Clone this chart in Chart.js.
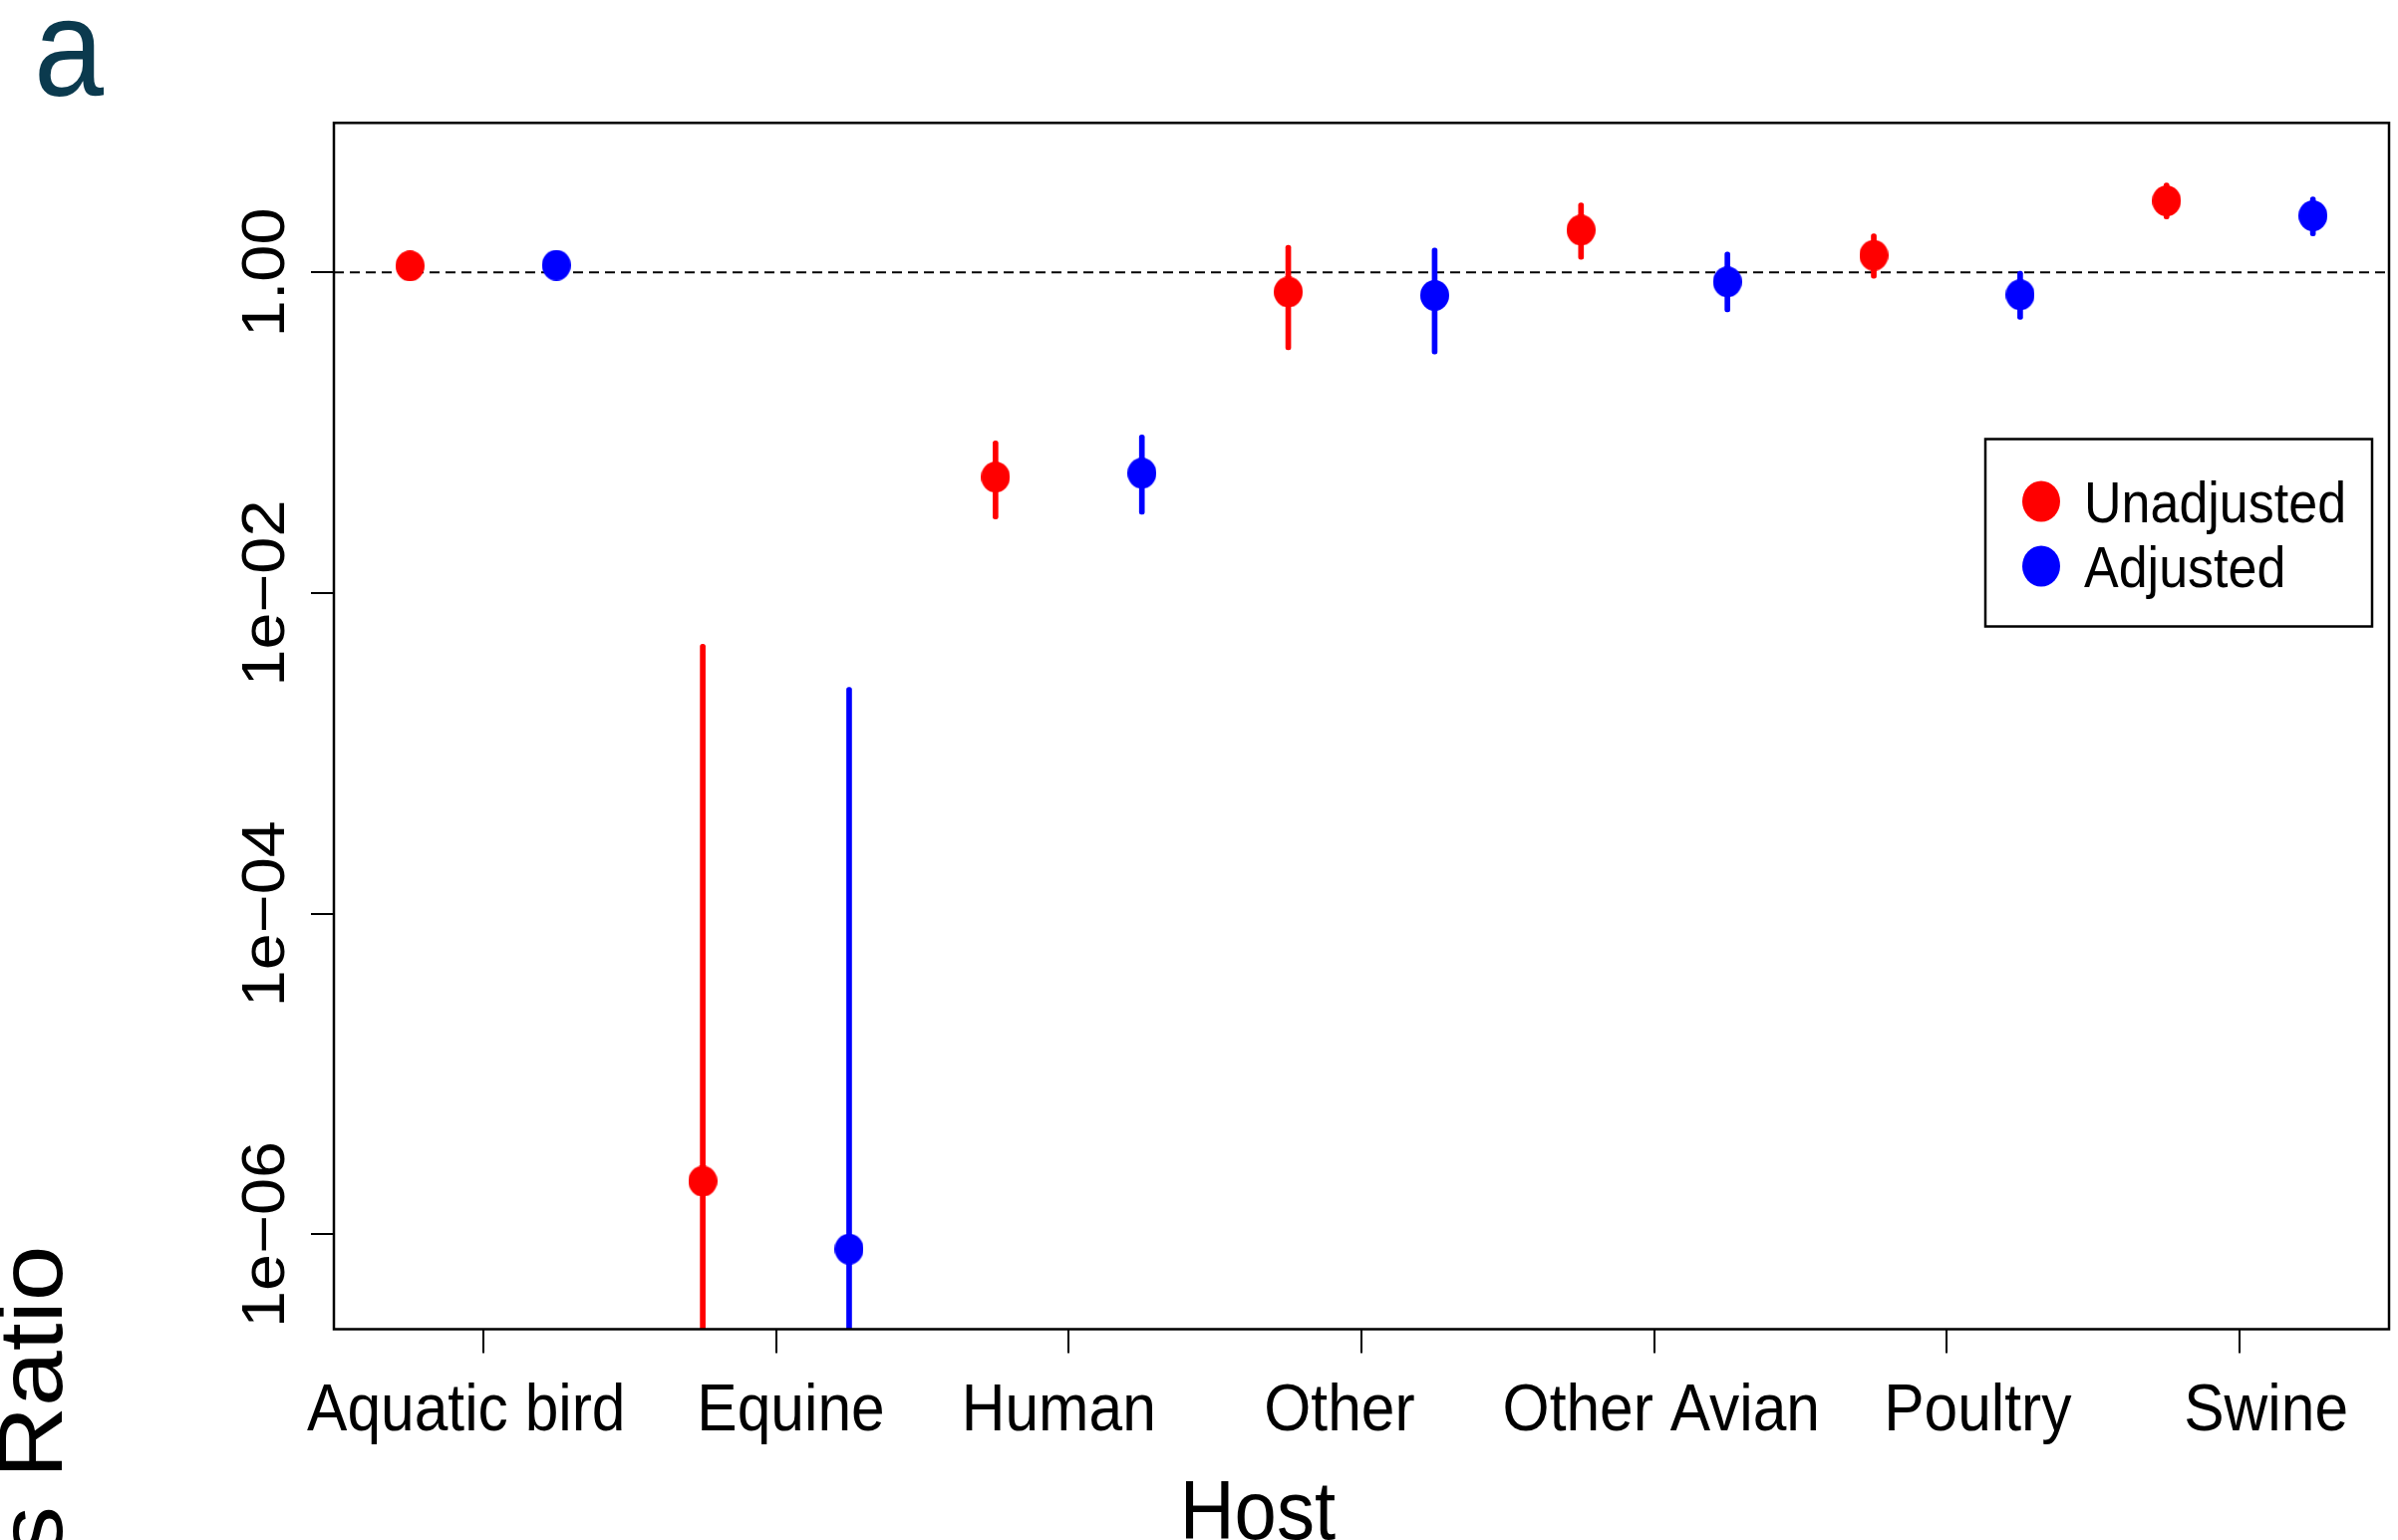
<!DOCTYPE html>
<html>
<head>
<meta charset="utf-8">
<script src="https://cdn.jsdelivr.net/npm/chart.js@4"></script>
<style>
  html, body { margin: 0; padding: 0; background: #fff; overflow: hidden; }
  canvas { display: block; }
</style>
</head>
<body>
<canvas id="chart" width="2406" height="1545"></canvas>
<script>
// Host categories on the x axis
const hosts = ['Aquatic bird', 'Equine', 'Human', 'Other', 'Other Avian', 'Poultry', 'Swine'];

// Unadjusted odds ratios with 95% confidence limits
const unadjOR    = [1.10, 2.15e-6, 0.053, 0.756, 1.84, 1.28, 2.80];
const unadjLower = [1.03, 1e-9,    0.029, 0.33,  1.21, 0.92, 2.16];
const unadjUpper = [1.17, 4.8e-3,  0.089, 1.48,  2.72, 1.74, 3.61];

// Adjusted odds ratios with 95% confidence limits
const adjOR    = [1.11, 8.1e-7,  0.056, 0.72, 0.875, 0.726, 2.26];
const adjLower = [1.04, 1e-9,    0.031, 0.31, 0.567, 0.51,  1.69];
const adjUpper = [1.19, 2.58e-3, 0.097, 1.42, 1.34,  1.02,  2.96];

// y axis ticks (log scale)
const yTickValues = [1e-6, 1e-4, 1e-2, 1];
const yTickLabels = ['1e\u221206', '1e\u221204', '1e\u221202', '1.00'];

// small horizontal nudges of the category labels, in category units
const labelNudge = [-0.058, 0.051, -0.034, -0.075, 0.024, 0.105, 0.09];

const RED = '#ff0000';
const BLUE = '#0000ff';
const FONT = '"Liberation Sans", Arial, Helvetica, sans-serif';
const VSTRETCH = 1.1;   // glyphs and dots are slightly taller than wide

const X_MIN = 0.49, X_MAX = 7.51;
const Y_MIN = Math.pow(10, -6.591), Y_MAX = Math.pow(10, 0.933);

const xPos = (i, side) => i + 1 + side * 0.25;
const points = (vals, side) => vals.map((v, i) => ({ x: xPos(i, side), y: v }));
const intervals = (lo, hi, side) => lo.map((l, i) => ({ x: xPos(i, side), y: [l, hi[i]] }));

function dotImage(color, w, h) {
  const c = document.createElement('canvas');
  c.width = w; c.height = h;
  const g = c.getContext('2d');
  g.fillStyle = color;
  g.beginPath();
  g.ellipse(w / 2, h / 2, w / 2, h / 2, 0, 0, Math.PI * 2);
  g.fill();
  return c;
}

function text(ctx, str, x, y, font, opts = {}) {
  ctx.save();
  ctx.translate(x, y);
  ctx.scale(1, VSTRETCH);
  if (opts.rotate) ctx.rotate(opts.rotate);
  ctx.font = font;
  ctx.fillStyle = opts.color || '#000';
  ctx.textAlign = opts.align || 'center';
  ctx.textBaseline = 'alphabetic';
  ctx.fillText(str, 0, 0);
  ctx.restore();
}

const ciBar = (label, data, color) => ({
  type: 'bar', label, data,
  backgroundColor: color, borderWidth: 0,
  barThickness: 5, maxBarThickness: 5, grouped: false,
  borderRadius: 2.5, borderSkipped: false,
  order: 1
});

const decor = {
  id: 'decor',
  beforeDraw(chart) {
    const { ctx, width, height } = chart;
    ctx.save();
    ctx.fillStyle = '#fff';
    ctx.fillRect(0, 0, width, height);
    ctx.restore();
  },
  beforeDatasetsDraw(chart) {
    // reference line at OR = 1
    const { ctx, chartArea: a, scales: { y } } = chart;
    const py = y.getPixelForValue(1);
    ctx.save();
    ctx.strokeStyle = '#000';
    ctx.lineWidth = 2;
    ctx.setLineDash([10, 6]);
    ctx.beginPath();
    ctx.moveTo(a.left, py);
    ctx.lineTo(a.right, py);
    ctx.stroke();
    ctx.restore();
  },
  afterDatasetsDraw(chart) {
    const { ctx, chartArea: a, scales: { x, y } } = chart;

    // plot frame
    ctx.save();
    ctx.strokeStyle = '#000';
    ctx.lineWidth = 2.5;
    ctx.strokeRect(a.left, a.top, a.right - a.left, a.bottom - a.top);
    ctx.restore();

    // y tick labels, parallel to the axis
    yTickValues.forEach((v, i) => {
      text(ctx, yTickLabels[i], a.left - 50, y.getPixelForValue(v), `60.5px ${FONT}`, { rotate: -Math.PI / 2 });
    });

    // category labels
    hosts.forEach((h, i) => {
      text(ctx, h, x.getPixelForValue(i + 1 + labelNudge[i]), a.bottom + 101, `60.5px ${FONT}`);
    });

    // axis titles
    text(ctx, 'Host', a.left + (a.right - a.left) * 0.4495, 1544, `76px ${FONT}`);
    text(ctx, 'Odds Ratio', 62, 1500, `91px ${FONT}`, { rotate: -Math.PI / 2 });

    // panel letter
    text(ctx, 'a', 34, 96, `126px ${FONT}`, { align: 'left', color: '#0b3a4e' });

    // legend
    const lx = 1992, ly = 440.5, lw = 388, lh = 188;
    ctx.save();
    ctx.strokeStyle = '#000';
    ctx.lineWidth = 2.5;
    ctx.strokeRect(lx, ly, lw, lh);
    ctx.restore();
    const entries = chart.data.datasets.filter(d => d.type === 'scatter');
    entries.forEach((d, k) => {
      const cy = 503 + k * 65;
      ctx.save();
      ctx.fillStyle = d.backgroundColor;
      ctx.beginPath();
      ctx.ellipse(2048, cy, 19, 20.5, 0, 0, Math.PI * 2);
      ctx.fill();
      ctx.restore();
      text(ctx, d.label, 2091, cy + 20.5, `52px ${FONT}`, { align: 'left' });
    });
  }
};

new Chart(document.getElementById('chart'), {
  type: 'scatter',
  data: {
    datasets: [
      { type: 'scatter', label: 'Unadjusted', data: points(unadjOR, -1),
        pointStyle: dotImage(RED, 29, 31), pointRadius: 15, pointHoverRadius: 15,
        backgroundColor: RED, borderColor: RED, order: 0 },
      { type: 'scatter', label: 'Adjusted', data: points(adjOR, 1),
        pointStyle: dotImage(BLUE, 29, 31), pointRadius: 15, pointHoverRadius: 15,
        backgroundColor: BLUE, borderColor: BLUE, order: 0 },
      ciBar('Unadjusted 95% CI', intervals(unadjLower, unadjUpper, -1), RED),
      ciBar('Adjusted 95% CI', intervals(adjLower, adjUpper, 1), BLUE)
    ]
  },
  options: {
    responsive: false,
    devicePixelRatio: 1,
    animation: false,
    layout: { autoPadding: false, padding: { top: 123.3, right: 9, bottom: 0, left: 0 } },
    plugins: { legend: { display: false }, tooltip: { enabled: false }, title: { display: false } },
    scales: {
      x: {
        type: 'linear', min: X_MIN, max: X_MAX, offset: false,
        afterBuildTicks: s => { s.ticks = hosts.map((_, i) => ({ value: i + 1 })); },
        afterFit: s => { s.height = 211.5; },
        ticks: { display: false },
        grid: { display: true, drawOnChartArea: false, drawTicks: true, tickLength: 24,
                color: '#000', lineWidth: 2, offset: false },
        border: { display: false }
      },
      y: {
        type: 'logarithmic', min: Y_MIN, max: Y_MAX,
        afterBuildTicks: s => { s.ticks = yTickValues.map(v => ({ value: v })); },
        afterFit: s => { s.width = 335; },
        ticks: { display: false },
        grid: { display: true, drawOnChartArea: false, drawTicks: true, tickLength: 23,
                color: '#000', lineWidth: 2 },
        border: { display: false }
      }
    }
  },
  plugins: [decor]
});
</script>
</body>
</html>
